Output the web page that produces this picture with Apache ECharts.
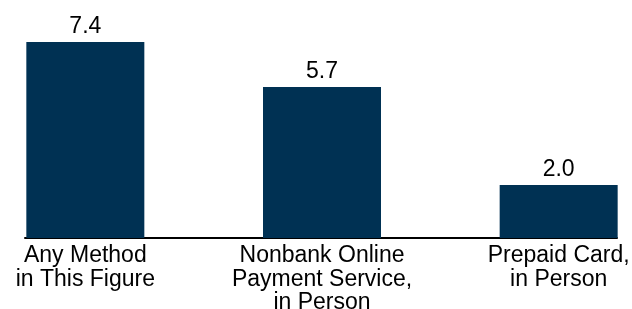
<!DOCTYPE html>
<html>
<head>
<meta charset="utf-8">
<script src="https://cdn.jsdelivr.net/npm/echarts@6/dist/echarts.min.js"></script>
<style>
html,body{margin:0;padding:0;background:#fff;}
#main{width:632px;height:309px;}
</style>
</head>
<body>
<div id="main"></div>
<script>
var categories = ['Any Method\nin This Figure', 'Nonbank Online\nPayment Service,\nin Person', 'Prepaid Card,\nin Person'];
var values = [7.4, 5.7, 2.0];

var mychart = echarts.init(document.getElementById('main'));
var font = 'Liberation Sans, Arial, sans-serif';
var option = {
    animation: false,
    grid: [
        {left: -33, right: -45, top: 26, bottom: 71, outerBoundsMode: 'none', containLabel: false},
        {left: 25, right: 15, top: 26, bottom: 71, outerBoundsMode: 'none', containLabel: false}
    ],
    xAxis: [{
        type: 'category',
        data: categories,
        gridIndex: 0,
        axisLine: {show: false},
        axisTick: {show: false},
        axisLabel: {
            interval: 0,
            color: '#000',
            fontFamily: font,
            fontSize: 23,
            lineHeight: 23.5,
            margin: 6
        }
    }, {
        type: 'value',
        gridIndex: 1,
        min: 0,
        max: 1,
        axisLine: {show: true, lineStyle: {color: '#000', width: 2}},
        axisTick: {show: false},
        axisLabel: {show: false},
        splitLine: {show: false}
    }],
    yAxis: [{
        type: 'value',
        gridIndex: 0,
        min: 0,
        max: 8,
        show: false
    }, {
        type: 'value',
        gridIndex: 1,
        min: 0,
        max: 8,
        show: false
    }],
    series: [{
        type: 'bar',
        data: values,
        barWidth: 118,
        itemStyle: {color: '#003153'},
        label: {
            show: true,
            position: 'top',
            distance: 4,
            color: '#000',
            fontFamily: font,
            fontSize: 23,
            formatter: function (p) { return p.value.toFixed(1); }
        }
    }]
};
mychart.setOption(option);
</script>
</body>
</html>
